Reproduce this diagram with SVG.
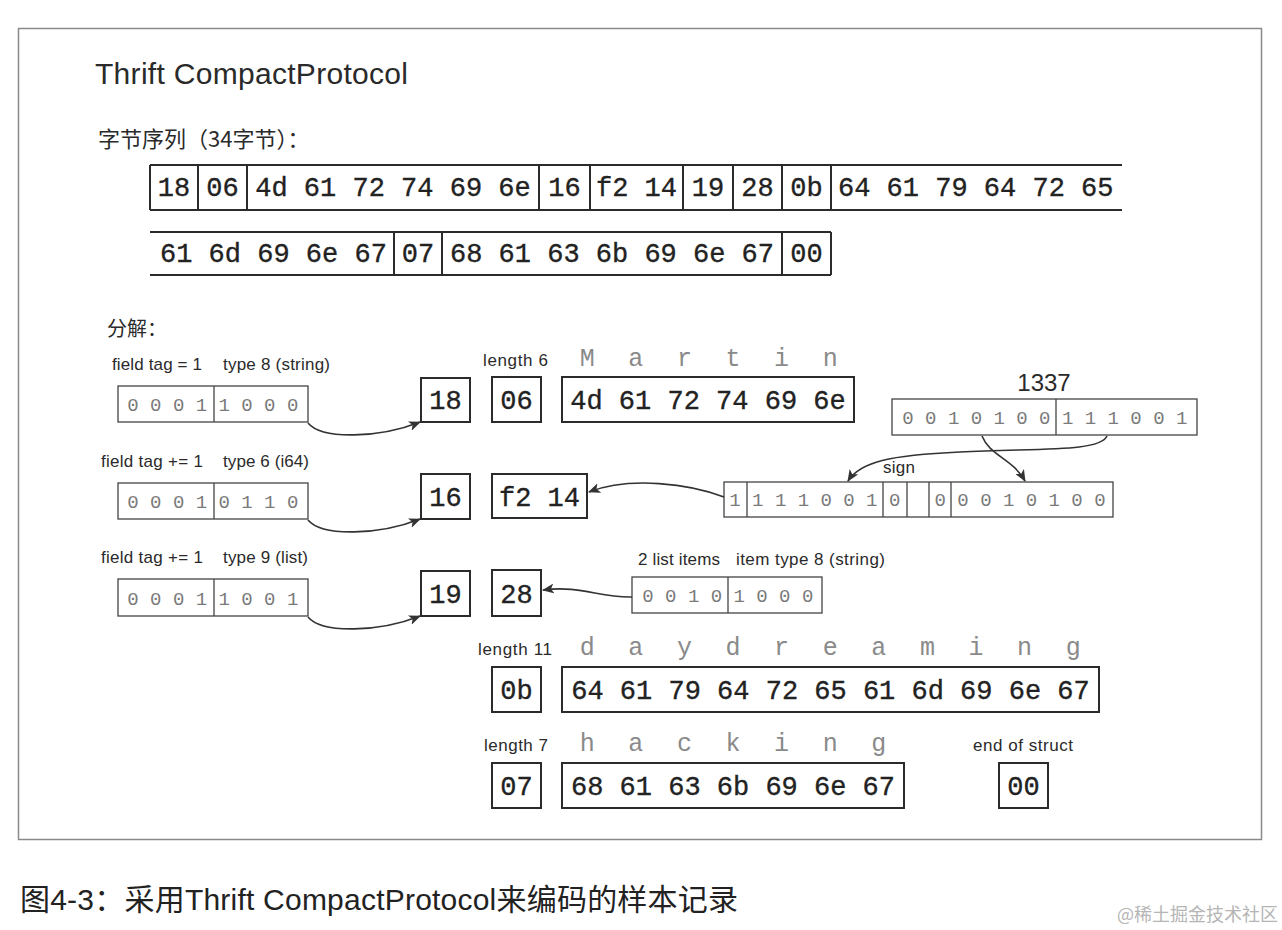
<svg xmlns="http://www.w3.org/2000/svg" width="1282" height="930" viewBox="0 0 1282 930">
<style>
.frame{fill:none;stroke:#8a8a8a;stroke-width:1.5}
.ln{fill:none;stroke:#2b2b2b;stroke-width:2}
.box{fill:#fff;stroke:#2b2b2b;stroke-width:2}
.bitbox{fill:#fff;stroke:#444;stroke-width:1.3}
.div{stroke:#444;stroke-width:1.3}
.hex{font-family:"Liberation Mono","DejaVu Sans Mono",monospace;font-size:27px;font-weight:normal;fill:#222;stroke:#222;stroke-width:0.35}
.bits{font-family:"Liberation Mono","DejaVu Sans Mono",monospace;font-size:19px;fill:#7a7a7a}
.chr{font-family:"Liberation Mono","DejaVu Sans Mono",monospace;font-size:25px;fill:#8a8a8a;text-anchor:middle}
.lbl{font-family:"Liberation Sans","Noto Sans",sans-serif;font-size:17px;fill:#2a2a2a}
.cjk{font-family:"Noto Sans CJK SC",sans-serif;fill:#2a2a2a}
.conn{fill:none;stroke:#333;stroke-width:1.6;marker-end:url(#ah)}
.mid{text-anchor:middle}
</style>
<defs>
<marker id="ah" viewBox="0 0 12 10" refX="11" refY="5" markerWidth="12" markerHeight="10" markerUnits="userSpaceOnUse" orient="auto"><path d="M0,0 L12,5 L0,10 L3,5 z" fill="#333"/></marker>
</defs>
<rect width="1282" height="930" fill="#fff"/>
<rect class="frame" x="18.5" y="28.5" width="1243" height="811"/>

<text x="95" y="84" font-family="Liberation Sans, Noto Sans, sans-serif" font-size="30" fill="#2a2a2a" textLength="313">Thrift CompactProtocol</text>
<text class="cjk" x="98" y="147" font-size="22">字节序列（34字节）：</text>

<g id="seq-row1">
<path class="ln" d="M150,165 H1122 M150,210 H1122 M150,165 V210 M198,165 V210 M247,165 V210 M539,165 V210 M590,165 V210 M683,165 V210 M733,165 V210 M782,165 V210 M831,165 V210"/>
<text class="hex mid" x="174" y="196">18</text>
<text class="hex mid" x="222.5" y="196">06</text>
<text class="hex mid" x="393" y="196">4d 61 72 74 69 6e</text>
<text class="hex mid" x="564.5" y="196">16</text>
<text class="hex mid" x="636.5" y="196">f2 14</text>
<text class="hex mid" x="708" y="196">19</text>
<text class="hex mid" x="757.5" y="196">28</text>
<text class="hex mid" x="806.5" y="196">0b</text>
<text class="hex" x="838" y="196">64 61 79 64 72 65</text>
</g>
<g id="seq-row2">
<path class="ln" d="M150,232 H831 M150,275 H831 M394,232 V275 M442,232 V275 M782,232 V275 M831,232 V275"/>
<text class="hex" x="160" y="262">61 6d 69 6e 67</text>
<text class="hex mid" x="418" y="262">07</text>
<text class="hex mid" x="612" y="262">68 61 63 6b 69 6e 67</text>
<text class="hex mid" x="806.5" y="262">00</text>
</g>

<text class="cjk" x="107" y="336" font-size="20">分解：</text>

<g id="field1-bits">
<text class="lbl" x="112" y="370" textLength="90">field tag = 1</text>
<text class="lbl" x="223" y="370" textLength="107">type 8 (string)</text>
<rect class="bitbox" x="118" y="386" width="190" height="36"/>
<line class="div" x1="214" y1="386" x2="214" y2="422"/>
<text class="bits" x="127.3" y="411">0 0 0 1 1 0 0 0</text>
</g>
<g id="field2-bits">
<text class="lbl" x="101" y="467" textLength="102">field tag += 1</text>
<text class="lbl" x="223" y="467" textLength="86">type 6 (i64)</text>
<rect class="bitbox" x="118" y="483" width="190" height="36"/>
<line class="div" x1="214" y1="483" x2="214" y2="519"/>
<text class="bits" x="127.3" y="508">0 0 0 1 0 1 1 0</text>
</g>
<g id="field3-bits">
<text class="lbl" x="101" y="563" textLength="102">field tag += 1</text>
<text class="lbl" x="223" y="563" textLength="85">type 9 (list)</text>
<rect class="bitbox" x="118" y="579" width="190" height="37"/>
<line class="div" x1="214" y1="579" x2="214" y2="616"/>
<text class="bits" x="127.3" y="605">0 0 0 1 1 0 0 1</text>
</g>

<g id="b18"><rect class="box" x="421" y="378" width="49" height="44"/><text class="hex mid" x="445.5" y="409">18</text></g>
<g id="b06">
<text class="lbl" x="483" y="366" textLength="65">length 6</text>
<rect class="box" x="492" y="377" width="49" height="45"/><text class="hex mid" x="516.5" y="409">06</text></g>
<g id="bmartin">
<text class="chr" x="587.2 635.8 684.4 733 781.6 830.2" y="366">Martin</text>
<rect class="box" x="562" y="377" width="292" height="45"/><text class="hex mid" x="708" y="409">4d 61 72 74 69 6e</text></g>

<g id="b1337">
<text x="1044" y="391" font-family="Liberation Sans, Noto Sans, sans-serif" font-size="24" fill="#2a2a2a" text-anchor="middle">1337</text>
<rect class="bitbox" x="892" y="399" width="305" height="36"/>
<line class="div" x1="1056" y1="399" x2="1056" y2="435"/>
<text class="bits" x="902.3" y="424">0 0 1 0 1 0 0 1 1 1 0 0 1</text>
</g>

<g id="b16"><rect class="box" x="421" y="474" width="49" height="45"/><text class="hex mid" x="445.5" y="506">16</text></g>
<g id="bf214"><rect class="box" x="492" y="474" width="95" height="44"/><text class="hex mid" x="539.5" y="506">f2 14</text></g>
<g id="bsign">
<text class="lbl" x="883" y="473" textLength="32">sign</text>
<rect class="bitbox" x="724" y="482" width="389" height="35"/>
<path class="div" d="M747,482 V517 M883,482 V517 M907,482 V517 M929,482 V517 M951,482 V517"/>
<text class="bits" x="729.3" y="506" xml:space="preserve">1 1 1 1 0 0 1 0   0 0 0 1 0 1 0 0</text>
</g>

<g id="b19"><rect class="box" x="421" y="571" width="49" height="45"/><text class="hex mid" x="445.5" y="603">19</text></g>
<g id="b28"><rect class="box" x="492" y="570" width="49" height="46"/><text class="hex mid" x="516.5" y="603">28</text></g>
<g id="blist">
<text class="lbl" x="638" y="565" textLength="82">2 list items</text>
<text class="lbl" x="736" y="565" textLength="149">item type 8 (string)</text>
<rect class="bitbox" x="632" y="577" width="190" height="36"/>
<line class="div" x1="728" y1="577" x2="728" y2="613"/>
<text class="bits" x="642.3" y="602">0 0 1 0 1 0 0 0</text>
</g>

<g id="b0b">
<text class="lbl" x="478" y="655" textLength="74">length 11</text>
<rect class="box" x="492" y="667" width="49" height="45"/><text class="hex mid" x="516.5" y="699">0b</text></g>
<g id="bdaydreaming">
<text class="chr" x="587.2 635.8 684.4 733 781.6 830.2 878.8 927.4 976 1024.6 1073.2" y="655">daydreaming</text>
<rect class="box" x="562" y="667" width="537" height="45"/><text class="hex mid" x="830.5" y="699">64 61 79 64 72 65 61 6d 69 6e 67</text></g>

<g id="b07">
<text class="lbl" x="484" y="751" textLength="64">length 7</text>
<rect class="box" x="492" y="763" width="49" height="45"/><text class="hex mid" x="516.5" y="795">07</text></g>
<g id="bhacking">
<text class="chr" x="587.2 635.8 684.4 733 781.6 830.2 878.8" y="751">hacking</text>
<rect class="box" x="562" y="763" width="342" height="45"/><text class="hex mid" x="733" y="795">68 61 63 6b 69 6e 67</text></g>
<g id="b00">
<text class="lbl" x="973" y="751" textLength="100">end of struct</text>
<rect class="box" x="999" y="763" width="49" height="45"/><text class="hex mid" x="1023.5" y="795">00</text></g>

<g id="connectors">
<path class="conn" d="M308,423 C322,440 380,438 420,422"/>
<path class="conn" d="M308,520 C322,537 380,535 420,519"/>
<path class="conn" d="M308,617 C322,634 380,632 420,616"/>
<path class="conn" d="M724,497 C690,484 630,476 589,492"/>
<path class="conn" d="M632,597 C600,598 580,585 543,590"/>
<path class="conn" d="M982,436 C990,456 1012,458 1025,481"/>
<path class="conn" d="M1107,436 C1100,452 1040,448 960,452 C890,455 860,462 848,481"/>
</g>

<text x="20" y="910" font-family="Liberation Sans, Noto Sans CJK SC, sans-serif" font-size="30" fill="#222" textLength="718">图4-3：采用Thrift CompactProtocol来编码的样本记录</text>
<text x="1117" y="921" font-family="Noto Sans CJK SC, sans-serif" font-size="18" fill="#b5b5b5">@稀土掘金技术社区</text>
</svg>
